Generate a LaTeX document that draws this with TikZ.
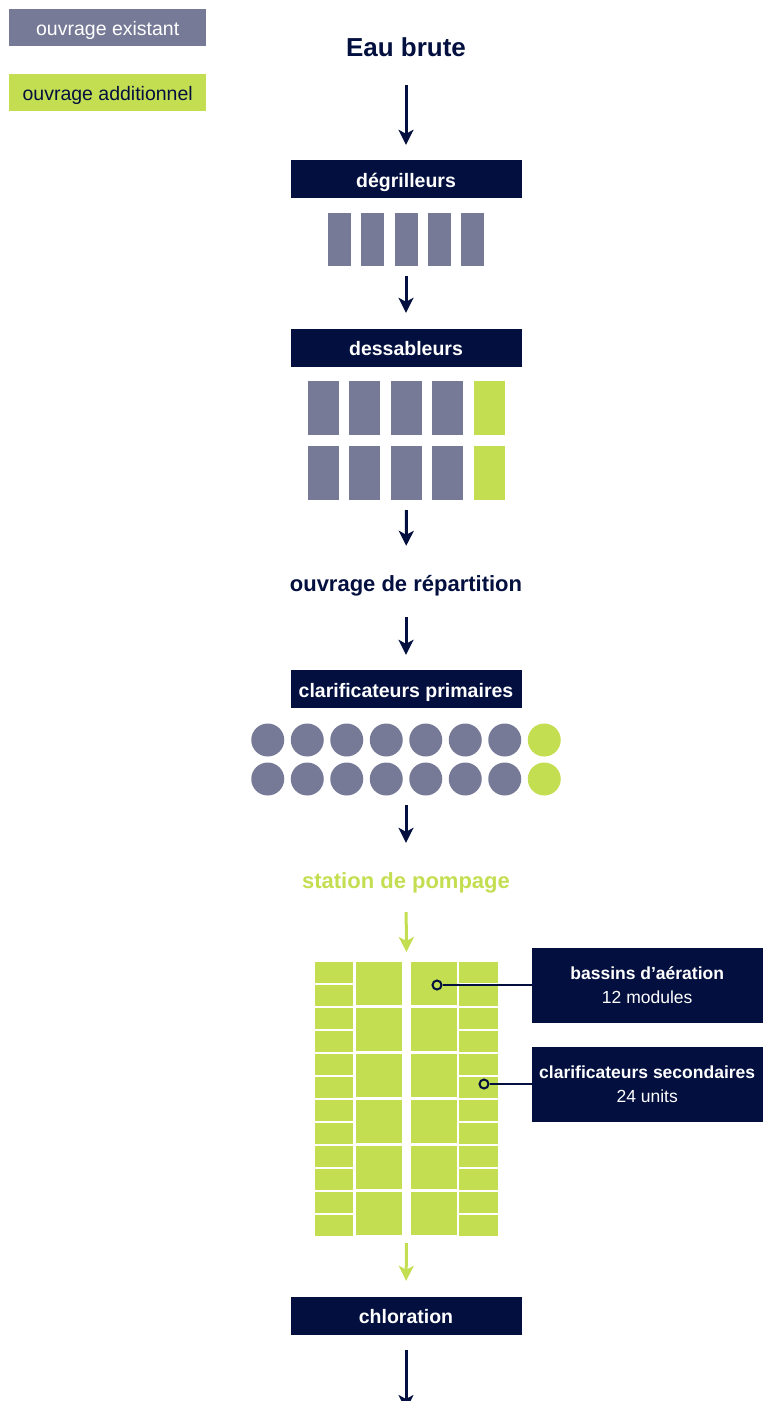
\documentclass[tikz,border=0pt]{standalone}
\usepackage{fontspec}
\setmainfont{Liberation Sans}
\usetikzlibrary{arrows.meta,positioning,fit}

\definecolor{navy}{HTML}{03103F}
\definecolor{existing}{HTML}{767A96}
\definecolor{added}{HTML}{C4DE51}

\begin{document}
\begin{tikzpicture}[
    x=1pt,
    y=-1pt,
    stage/.style={
        rectangle,
        fill=navy,
        text=white,
        inner sep=0pt,
        minimum width=231pt,
        minimum height=38pt,
        text height=19.5pt,
        text depth=3pt,
        font=\fontsize{19.5}{23}\selectfont\bfseries
    },
    legend/.style={
        rectangle,
        inner sep=0pt,
        minimum width=197pt,
        minimum height=37pt,
        text height=19.5pt,
        text depth=3pt,
        font=\fontsize{19.5}{23}\selectfont
    },
    headline/.style={
        anchor=base,
        inner sep=0pt,
        text height=16pt,
        text depth=0pt,
        text=navy,
        font=\fontsize{22}{26}\selectfont\bfseries
    },
    callout/.style={
        rectangle,
        fill=navy,
        text=white,
        align=center,
        inner sep=0pt,
        minimum width=231pt,
        minimum height=75pt,
        font=\fontsize{17.5}{24}\selectfont
    },
    group/.style={
        inner sep=0pt,
        outer sep=0pt
    },
    dot/.style={
        circle,
        draw=navy,
        fill=added,
        line width=2pt,
        inner sep=0pt,
        minimum size=9pt
    },
    pointer/.style={
        draw=navy,
        line width=1.8pt
    },
    flow/.style={
        draw=navy,
        line width=3pt,
        -{Stealth[length=15pt,width=15pt,inset=4pt]}
    },
    greenflow/.style={
        flow,
        draw=added
    }
]

    \useasboundingbox (0,0) rectangle (773,1401);

    % Legend
    \node [legend, fill=existing, text=white, anchor=north west] (leg_old) at (9,9) {ouvrage existant};
    \node [legend, fill=added, text=navy, below=27pt of leg_old] (leg_new) {ouvrage additionnel};

    % Nodes
    \node [headline, font=\fontsize{26}{30}\selectfont\bfseries] (raw) at (406,56) {Eau brute};

    \node [stage] (screens) at (406,179) {dégrilleurs};
    \foreach \i in {0,...,4}
        \fill [existing] ({394.5+33.1*(\i-2)},213) rectangle ++(23,53);
    \node [group, fit={(328,213) (484,266)}] (screenset) {};

    \node [stage] (grit) at (406,347.5) {dessableurs};
    \foreach \i/\c in {0/existing,1/existing,2/existing,3/existing,4/added}
        \foreach \y in {381,446}
            \fill [\c] ({390.5+41.5*(\i-2)},\y) rectangle ++(31,54);
    \node [group, fit={(308,381) (505,500)}] (gritset) {};

    \node [headline] (split) at (406,591) {ouvrage de répartition};

    \node [stage] (primary) at (406,689) {clarificateurs primaires};
    \foreach \i/\c in {0/existing,1/existing,2/existing,3/existing,4/existing,5/existing,6/existing,7/added}
        \foreach \y in {740,779}
            \fill [\c] ({406+39.5*(\i-3.5)},\y) circle [radius=16.5];
    \node [group, fit={(251,723.5) (561,795.5)}] (primaryset) {};

    \node [headline, text=added] (pumps) at (406,888) {station de pompage};

    % Aeration basins and secondary clarifiers
    \foreach \i in {0,...,5} {
        \fill [added] (356,962+46*\i) rectangle ++(46,43);
        \fill [added] (411,962+46*\i) rectangle ++(46,43);
    }
    \foreach \j in {0,...,11} {
        \fill [added] (315,962+23*\j) rectangle ++(38,20.5);
        \fill [added] (459,962+23*\j) rectangle ++(39,20.5);
    }
    \node [group, fit={(315,962) (498,1235.5)}] (aeration) {};

    \node [stage] (chlorine) at (406,1315.5) {chloration};
    \coordinate (outlet) at (406,1410);

    % Callouts
    \node [dot] (dot_basins) at (437,985) {};
    \node [dot] (dot_clar) at (484,1084) {};
    \node [callout, right=89pt of dot_basins] (basins) {\textbf{bassins d’aération}\\12 modules};
    \node [callout, right=42pt of dot_clar] (secondary) {\textbf{clarificateurs secondaires}\\24 units};
    \path [pointer] (dot_basins) -- (basins);
    \path [pointer] (dot_clar) -- (secondary);

    % Edges
    \path [flow, shorten <=29pt, shorten >=15pt] (raw.south) -- (screens.north);
    \path [flow, shorten <=10pt, shorten >=15.5pt] (screenset.south) -- (grit.north);
    \path [flow, shorten <=10pt, shorten >=29pt] (gritset.south) -- (split.north);
    \path [flow, shorten <=26pt, shorten >=15pt] (split.south) -- (primary.north);
    \path [flow, shorten <=9.5pt, shorten >=29pt] (primaryset.south) -- (pumps.north);
    \path [greenflow, shorten <=24pt, shorten >=10pt] (pumps.south) -- (aeration.north);
    \path [greenflow, shorten <=7.5pt, shorten >=15.5pt] (aeration.south) -- (chlorine.north);
    \path [flow, shorten <=15.5pt] (chlorine.south) -- (outlet);

\end{tikzpicture}
\end{document}
